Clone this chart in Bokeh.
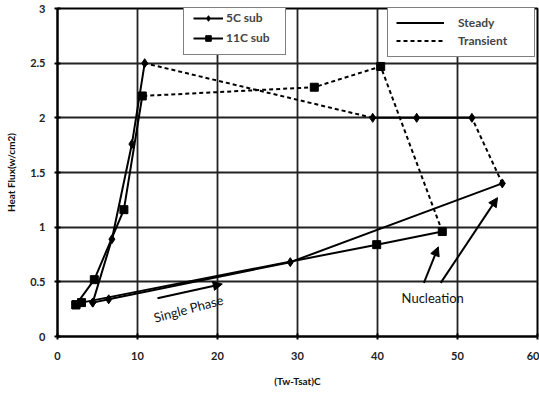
from bokeh.plotting import figure
from bokeh.models import (Range1d, FixedTicker, NumeralTickFormatter, Legend, LegendItem,
                          Arrow, NormalHead, Label)
from bokeh.embed import file_html
from bokeh.resources import INLINE

# ---- data ----
c5_x = [4.4, 6.4, 29.1, 55.6, 51.8, 44.9, 39.4, 10.9, 9.3, 6.8, 4.4]
c5_y = [0.31, 0.34, 0.68, 1.40, 2.00, 2.00, 2.00, 2.50, 1.76, 0.89, 0.31]
c11_x = [2.3, 3.0, 39.9, 48.1, 40.4, 32.1, 10.6, 8.3, 4.6, 2.3]
c11_y = [0.29, 0.31, 0.84, 0.96, 2.47, 2.28, 2.20, 1.16, 0.52, 0.29]
# segments: (start index, end index, style)
c5_segments = [(0, 3, "solid"), (3, 4, "dashed"), (4, 6, "solid"), (6, 7, "dashed"), (7, 10, "solid")]
c11_segments = [(0, 3, "solid"), (3, 6, "dashed"), (6, 9, "solid")]

x_ticks = [0, 10, 20, 30, 40, 50, 60]
y_ticks = [0, 0.5, 1, 1.5, 2, 2.5, 3]

single_phase_arrow = (12.5, 0.35, 20.6, 0.48)
nucleation_arrows = [(45.8, 0.49, 47.6, 0.82), (47.9, 0.49, 55.0, 1.27)]

FONT = "Lato"

p = figure(width=539, height=394, output_backend="svg", toolbar_location=None,
           x_range=Range1d(0, 60), y_range=Range1d(0, 3),
           min_border_left=57, min_border_right=2, min_border_top=8, min_border_bottom=58)
p.background_fill_color = "white"
p.border_fill_color = "white"
p.outline_line_color = "black"
p.outline_line_width = 2

p.xaxis.ticker = FixedTicker(ticks=x_ticks)
p.yaxis.ticker = FixedTicker(ticks=y_ticks)
p.yaxis.formatter = NumeralTickFormatter(format="0.[0]")
for ax in (p.xaxis, p.yaxis):
    ax.axis_line_color = "black"
    ax.axis_line_width = 2
    ax.major_tick_in = 3
    ax.major_tick_out = 3
    ax.major_tick_line_width = 2
    ax.minor_tick_line_color = None
    ax.major_label_text_font = FONT
    ax.major_label_text_font_size = "11px"
    ax.major_label_text_font_style = "bold"
    ax.major_label_text_color = "#222222"
    ax.axis_label_text_font = FONT
    ax.axis_label_text_font_size = "10px"
    ax.axis_label_text_font_style = "bold"
    ax.axis_label_text_color = "#111111"
p.xaxis.axis_label = "(Tw-Tsat)C"
p.yaxis.axis_label = "Heat Flux(w/cm2)"
p.xaxis.major_label_standoff = 12
p.xaxis.axis_label_standoff = 12
p.yaxis.major_label_standoff = 9
p.yaxis.axis_label_standoff = 10

p.grid.grid_line_color = "#222222"
p.grid.grid_line_width = 1.8
p.grid.grid_line_alpha = 1.0

dash_map = {"solid": "solid", "dashed": "4 3"}

seg_renderers = {}
for name, xs, ys, segs in (("5C", c5_x, c5_y, c5_segments), ("11C", c11_x, c11_y, c11_segments)):
    for i, (s, e, style) in enumerate(segs):
        r = p.line(xs[s:e + 1], ys[s:e + 1], line_color="black", line_width=2,
                   line_dash=dash_map[style])
        seg_renderers[(name, i)] = r

r5 = p.scatter(c5_x, c5_y, marker="diamond", size=9, fill_color="black", line_color="black")
r11 = p.scatter(c11_x, c11_y, marker="square", size=8, fill_color="black", line_color="black")

leg1 = Legend(items=[LegendItem(label="5C sub", renderers=[seg_renderers[("5C", 0)], r5]),
                     LegendItem(label="11C sub", renderers=[seg_renderers[("11C", 0)], r11])],
              location=(126, 281), glyph_width=30, glyph_height=14, label_standoff=3,
              label_width=50, spacing=5, padding=9, margin=0,
              label_text_font=FONT, label_text_font_size="12px", label_text_font_style="bold",
              border_line_color="black", border_line_width=1.5, background_fill_alpha=1.0)
leg2 = Legend(items=[LegendItem(label="Steady", renderers=[seg_renderers[("5C", 0)]]),
                     LegendItem(label="Transient", renderers=[seg_renderers[("5C", 1)]])],
              location=(330, 279), glyph_width=48, glyph_height=13, label_standoff=14,
              label_width=68, spacing=3, padding=8, margin=0,
              label_text_font=FONT, label_text_font_size="12px", label_text_font_style="bold",
              border_line_color="black", border_line_width=1.5, background_fill_alpha=1.0)
p.add_layout(leg1)
p.add_layout(leg2)

x0, y0, x1, y1 = single_phase_arrow
p.add_layout(Arrow(x_start=x0, y_start=y0, x_end=x1, y_end=y1, line_width=2, line_color="black",
                   end=NormalHead(size=9, fill_color="black", line_color="black")))
for x0, y0, x1, y1 in nucleation_arrows:
    p.add_layout(Arrow(x_start=x0, y_start=y0, x_end=x1, y_end=y1, line_width=2, line_color="black",
                       end=NormalHead(size=9, fill_color="black", line_color="black")))

p.add_layout(Label(x=12.3, y=0.1, text="Single Phase", angle=0.26, text_font=FONT,
                   text_font_size="13px", text_color="#111111"))
p.add_layout(Label(x=46.9, y=0.35, text="Nucleation", text_align="center", text_baseline="middle",
                   text_font=FONT, text_font_size="13px", text_color="#111111"))

open("out.html", "w").write(file_html(p, INLINE))
